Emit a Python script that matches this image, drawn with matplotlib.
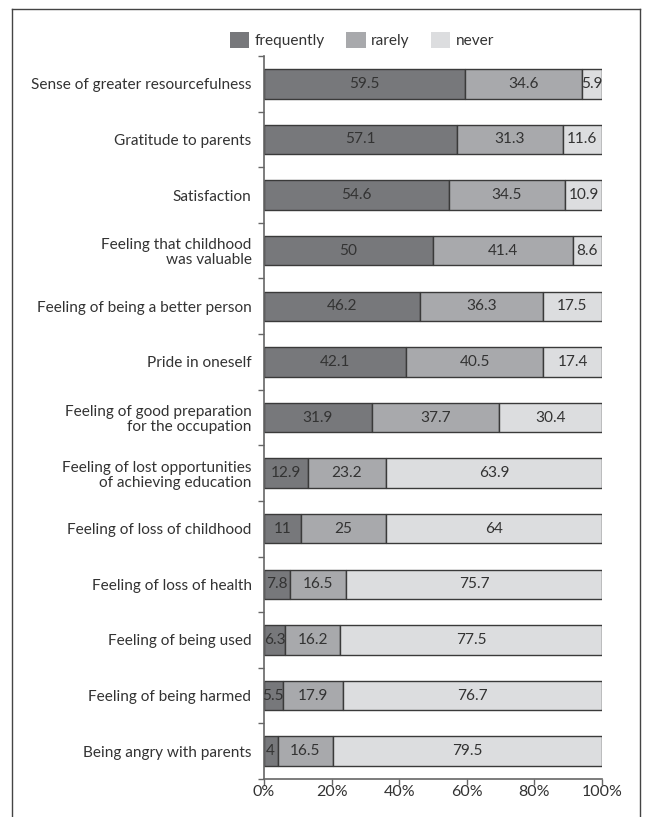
import matplotlib
matplotlib.use("Agg")
import matplotlib.pyplot as plt
from matplotlib.lines import Line2D
from matplotlib.ticker import FixedLocator, PercentFormatter

plt.rcParams['font.family'] = ['Lato', 'DejaVu Sans']

categories = [
    "Sense of greater resourcefulness",
    "Gratitude to parents",
    "Satisfaction",
    "Feeling that childhood\nwas valuable",
    "Feeling of being a better person",
    "Pride in oneself",
    "Feeling of good preparation\nfor the occupation",
    "Feeling of lost opportunities\nof achieving education",
    "Feeling of loss of childhood",
    "Feeling of loss of health",
    "Feeling of being used",
    "Feeling of being harmed",
    "Being angry with parents",
]
frequently = [59.5, 57.1, 54.6, 50, 46.2, 42.1, 31.9, 12.9, 11, 7.8, 6.3, 5.5, 4]
rarely = [34.6, 31.3, 34.5, 41.4, 36.3, 40.5, 37.7, 23.2, 25, 16.5, 16.2, 17.9, 16.5]
never = [5.9, 11.6, 10.9, 8.6, 17.5, 17.4, 30.4, 63.9, 64, 75.7, 77.5, 76.7, 79.5]
series_names = ["frequently", "rarely", "never"]
colors = ["#77787b", "#a8a9ac", "#dcdddf"]
xticks = [0, 20, 40, 60, 80, 100]

W, H = 647, 817
fig = plt.figure(figsize=(W / 100, H / 100), dpi=100)
ax = fig.add_axes([264 / W, 1 - 779 / H, (602 - 264) / W, (779 - 56) / H])

txt = "#333333"
edge = "#3a3a3a"
fs = 11.1
n = len(categories)
ypos = list(range(n))
left = [0] * n
for name, vals, col in zip(series_names, [frequently, rarely, never], colors):
    bars = ax.barh(ypos, vals, left=left, height=0.53, color=col,
                   edgecolor=edge, linewidth=1.0, label=name)
    for b, v in zip(bars, vals):
        ax.text(b.get_x() + b.get_width() / 2, b.get_y() + b.get_height() / 2,
                f"{v:g}", ha="center", va="center", fontsize=fs, color=txt)
    left = [l + v for l, v in zip(left, vals)]

ax.set_ylim(n - 0.5, -0.5)
ax.set_xlim(0, 100)
ax.set_yticks(ypos)
ax.set_yticklabels(categories, fontsize=fs, color=txt, linespacing=1.1)
ax.tick_params(axis="y", which="major", length=0, pad=9)
ax.yaxis.set_minor_locator(FixedLocator([i + 0.5 for i in range(-1, n)]))
ax.tick_params(axis="y", which="minor", length=4, width=1, color="#666666")
ax.set_xticks(xticks)
ax.xaxis.set_major_formatter(PercentFormatter(decimals=0))
ax.tick_params(axis="x", length=4, width=1, color="#666666", labelsize=fs + 0.4,
               labelcolor=txt, pad=0.5)
for s in ["top", "right"]:
    ax.spines[s].set_visible(False)
for s in ["left", "bottom"]:
    ax.spines[s].set_color("#666666")
    ax.spines[s].set_linewidth(1.2)

leg = fig.legend(loc="center", bbox_to_anchor=(362 / W, 1 - 40 / H), ncol=3,
                 frameon=False, fontsize=fs, handlelength=1.25, handleheight=1.25,
                 handletextpad=0.35, columnspacing=1.4, borderpad=0)
for t in leg.get_texts():
    t.set_color(txt)
for p in leg.get_patches():
    p.set_edgecolor("none")

# figure frame (open at bottom)
fx0, fx1, fy1 = 12 / W, 640 / W, 1 - 9 / H
for xs, ys in [([fx0, fx0], [0, fy1]), ([fx1, fx1], [0, fy1]), ([fx0, fx1], [fy1, fy1])]:
    fig.add_artist(Line2D(xs, ys, transform=fig.transFigure, color="#444444", lw=1.0))

fig.savefig("out.png", dpi=100)
